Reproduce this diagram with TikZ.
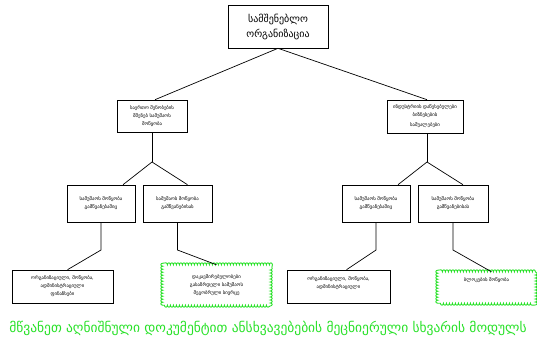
\documentclass[tikz,border=0pt]{standalone}
\usepackage{fontspec}
\setmainfont{DejaVu Sans}
\usetikzlibrary{shadows, decorations.pathmorphing}

\definecolor{leafgreen}{RGB}{40,225,40}

\begin{document}
\begin{tikzpicture}[x=1pt, y=-1pt,
  box/.style={draw, fill=white, line width=0.6pt, inner sep=1pt, align=center,
    font=\fontsize{4.8}{8}\selectfont,
    drop shadow={shadow xshift=0.8pt, shadow yshift=-0.8pt, fill=black, opacity=1}},
  greenbox/.style={inner sep=1pt, align=center, font=\fontsize{4.8}{8}\selectfont},
  wavy/.style={draw=leafgreen, line width=0.9pt,
    decorate, decoration={bumps, segment length=6pt, amplitude=2pt}},
  link/.style={line width=0.7pt}]
\useasboundingbox (0,0) rectangle (537,343);

% top
\node[box, minimum width=100pt, minimum height=43pt, font=\fontsize{10}{15}\selectfont] (org) at (278,26.5) {სამშენებლო\\ორგანიზაცია};

% second level
\node[box, minimum width=70pt, minimum height=32pt] (homes) at (152,116) {საერთო შენობების\\მშენებ სამუშაოს\\მოწყობა};
\node[box, minimum width=76pt, minimum height=33pt] (industry) at (425,116.5) {ინდუსტრიის დაწესებულები\\ბიზნესების\\[2pt]საშუალებები};

\draw[link] (org.south) -- ([xshift=3pt]homes.north);
\draw[link] (org.south) -- ([xshift=2pt]industry.north);

% third level
\node[box, minimum width=68pt, minimum height=37pt] (workA) at (101,203.5) {სამუშაოს მოწყობა\\გამწვანებაშიც};
\node[box, minimum width=69pt, minimum height=37pt] (workB) at (177.5,203.5) {სამუშაოს მოწყობა\\გამწვანებისას};
\node[box, minimum width=68pt, minimum height=37pt] (workC) at (376,203.5) {სამუშაოს მოწყობა\\გამწვანებაშიც};
\node[box, minimum width=70pt, minimum height=37pt] (workD) at (453,203.5) {სამუშაოს მოწყობა\\გამწვანებისას};

\coordinate (forkL) at (152,162);
\coordinate (forkR) at (427,162);
\draw[link] (homes.south) -- (forkL);
\draw[link] (forkL) -- ([xshift=22pt]workA.north);
\draw[link] (forkL) -- ([xshift=10pt]workB.north);
\draw[link] (industry.south -| forkR) -- (forkR);
\draw[link] (forkR) -- ([xshift=22pt]workC.north);
\draw[link] (forkR) -- ([xshift=10pt]workD.north);

% bottom level
\node[box, minimum width=101pt, minimum height=33pt] (adminL) at (62.5,286.5) {ორგანიზაციული, მოწყობა,\\ადმინისტრაციული\\ფინანსები};
\node[greenbox, minimum width=107pt, minimum height=40pt] (greenL) at (216.5,285) {დაკავშირებულობები\\გასაზრდელი სამუშაოს\\მეგობრული სივრცე};
\draw[wavy] (greenL.south west) rectangle (greenL.north east);
\node[box, minimum width=103pt, minimum height=33pt] (adminR) at (338.5,286.5) {ორგანიზაციული, მოწყობა,\\ადმინისტრაციული\\\mbox{}};
\node[greenbox, minimum width=97pt, minimum height=31pt] (greenR) at (486.5,287.5) {ბლოკების მოწყობა\\\mbox{}\\\mbox{}};
\draw[wavy] (greenR.south west) rectangle (greenR.north east);

\coordinate (bendA) at (101,250);
\coordinate (bendB) at (177.5,250);
\coordinate (bendC) at (376,250);
\coordinate (bendD) at (453,250);
\draw[link] (workA.south) -- (bendA) -- ([xshift=5pt]adminL.north);
\draw[link] (workB.south) -- (bendB) -- (greenL.north);
\draw[link] (workC.south) -- (bendC) -- ([xshift=8pt]adminR.north);
\draw[link] (workD.south) -- (bendD) -- ([xshift=5pt]greenR.north);

% note
\node[text=leafgreen, font=\fontsize{13.5}{15}\selectfont] (note) at (268,328) {მწვანეთ აღნიშნული დოკუმენტით ანსხვავებების მეცნიერული სხვარის მოდულს};
\end{tikzpicture}
\end{document}
